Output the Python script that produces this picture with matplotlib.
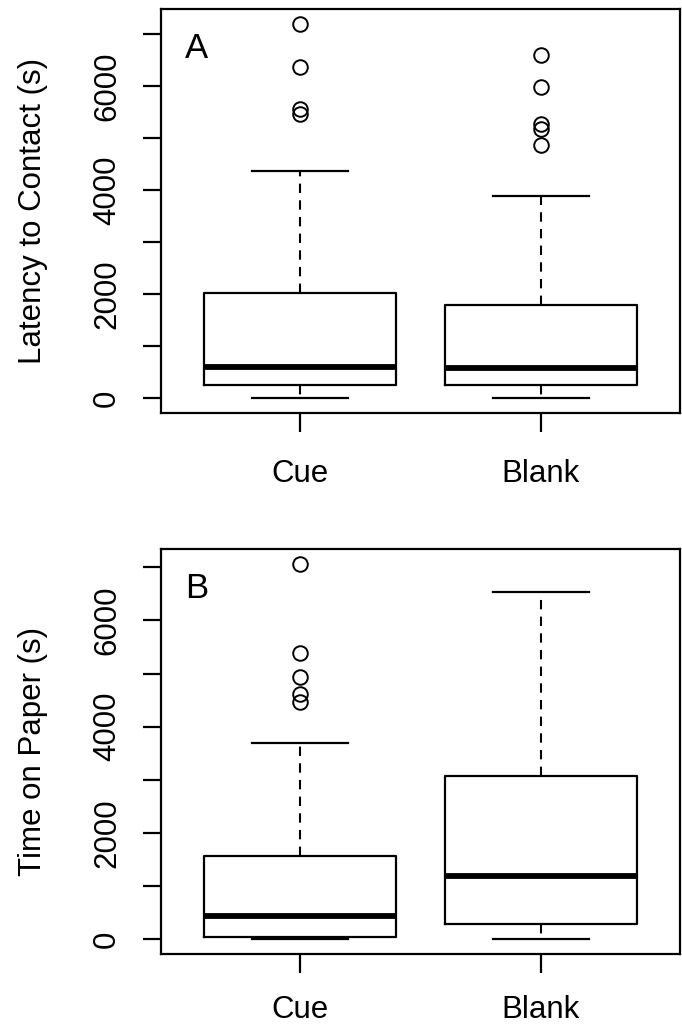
import matplotlib
matplotlib.use('Agg')
import matplotlib.pyplot as plt

plt.rcParams['font.family'] = ['Liberation Sans', 'DejaVu Sans']

groups = ['Cue', 'Blank']

# panel A - latency to contact (s)
lat_lo = [8, 8]
lat_q1 = [249, 249]
lat_med = [607, 575]
lat_q3 = [2019, 1795]
lat_hi = [4375, 3889]
lat_out = [[7192, 6360, 5563, 5467], [6598, 5985, 5276, 5180, 4874]]

# panel B - time on paper (s)
pap_lo = [10, 6]
pap_q1 = [49, 282]
pap_med = [432, 1183]
pap_q3 = [1565, 3081]
pap_hi = [3701, 6530]
pap_out = [[7056, 5392, 4933, 4621, 4464], []]

yticks = [0, 1000, 2000, 3000, 4000, 5000, 6000, 7000]
yticklabels = ['0', '', '2000', '', '4000', '', '6000', '']

FS = 22.5


def panel(ax, lo, q1, med, q3, hi, out, ylabel, letter, xpad):
    stats = []
    for i in range(len(groups)):
        stats.append({'label': groups[i], 'whislo': lo[i], 'q1': q1[i], 'med': med[i],
                      'q3': q3[i], 'whishi': hi[i], 'fliers': out[i]})
    ax.bxp(stats, positions=[1, 2], widths=0.8, capwidths=0.4, showfliers=True,
           boxprops=dict(color='black', linewidth=1.6),
           medianprops=dict(color='black', linewidth=4.2, solid_capstyle='butt'),
           whiskerprops=dict(color='black', linewidth=1.5, linestyle=(0, (4.5, 3.5))),
           capprops=dict(color='black', linewidth=1.6),
           flierprops=dict(marker='o', markersize=10.5, markerfacecolor='none',
                           markeredgecolor='black', markeredgewidth=1.4))
    # R style 4% axis padding
    allv = lo + hi + [v for o in out for v in o]
    vmin, vmax = min(allv), max(allv)
    pad = 0.04 * (vmax - vmin)
    ax.set_ylim(vmin - pad, vmax + pad)
    ax.set_xlim(0.42, 2.58)
    ax.set_yticks(yticks)
    ax.set_yticklabels(yticklabels)
    ax.set_xticks([1, 2])
    ax.set_xticklabels(groups)
    ax.tick_params(axis='y', length=13, width=1.6, labelsize=FS, labelrotation=90, pad=15)
    ax.tick_params(axis='x', length=14, width=1.6, labelsize=FS, pad=xpad)
    for t in ax.get_yticklabels():
        t.set_va('center')
    for s in ax.spines.values():
        s.set_linewidth(1.6)
    ax.set_ylabel(ylabel, fontsize=FS)
    ax.yaxis.set_label_coords(-0.218, 0.5)
    ax.text(0.046, 0.879, letter, transform=ax.transAxes, fontsize=FS + 2.5,
            ha='left', va='baseline')


fig = plt.figure(figsize=(6.82, 10.25), dpi=100)
ax1 = fig.add_axes([0.2361, 0.5971, 0.7610, 0.3941])
ax2 = fig.add_axes([0.2361, 0.0693, 0.7610, 0.3948])

panel(ax1, lat_lo, lat_q1, lat_med, lat_q3, lat_hi, lat_out, 'Latency to Contact (s)', 'A', 19)
panel(ax2, pap_lo, pap_q1, pap_med, pap_q3, pap_hi, pap_out, 'Time on Paper (s)', 'B', 15.5)

fig.savefig('out.png', dpi=100)
